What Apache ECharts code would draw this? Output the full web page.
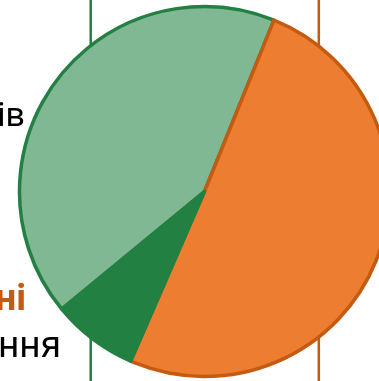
<!DOCTYPE html>
<html>
<head>
<meta charset="utf-8">
<script src="https://cdn.jsdelivr.net/npm/echarts@6/dist/echarts.min.js"></script>
<style>
  html, body { margin: 0; padding: 0; background: #ffffff; }
  #chart { width: 379px; height: 381px; }
</style>
</head>
<body>
<div id="chart"></div>
<script>
// Slice names, shares (percent) and colours, listed clockwise
const categories = ['Частка B', 'Частка C', 'Частка A'];
const shares = [42.1, 50.4, 7.5];
const fillColors = ['#80b893', '#ed7d31', '#228042'];
const borderColors = ['#228042', '#c55a11', '#228042'];

// Label fragments shown at the left edge
const labelTexts = ['ів', 'ні', 'ння'];

const chart = echarts.init(document.getElementById('chart'), null, { renderer: 'canvas' });

const pieData = categories.map((name, i) => ({
  name: name,
  value: shares[i],
  itemStyle: { color: fillColors[i], borderColor: borderColors[i], borderWidth: 3.5 }
}));

chart.setOption({
  animation: false,
  backgroundColor: '#ffffff',
  graphic: [
    { type: 'line', z: 0, shape: { x1: 90.7, y1: 0, x2: 90.7, y2: 381 }, style: { stroke: '#228042', lineWidth: 2.5 } },
    { type: 'line', z: 0, shape: { x1: 318.8, y1: 0, x2: 318.8, y2: 381 }, style: { stroke: '#c55a11', lineWidth: 2.5 } },
    { type: 'text', z: 5, right: 354, top: 100, style: { text: labelTexts[0], fill: '#000000', font: '34px Roboto' } },
    { type: 'text', z: 5, right: 353, top: 282, style: { text: labelTexts[1], fill: '#c55a11', font: 'bold 37px Roboto' } },
    { type: 'text', z: 5, right: 318, top: 329, style: { text: labelTexts[2], fill: '#000000', font: '37px Roboto' } }
  ],
  series: [{
    type: 'pie',
    z: 2,
    center: [204.5, 191.5],
    radius: [0, 185],
    startAngle: -140.5,
    clockwise: true,
    label: { show: false },
    labelLine: { show: false },
    emphasis: { disabled: true },
    data: pieData
  }]
});
</script>
</body>
</html>
